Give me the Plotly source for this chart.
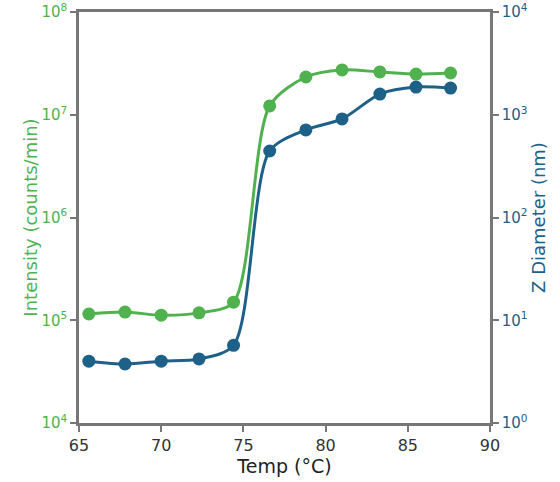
import plotly.graph_objects as go

temp = [65.6, 67.8, 70.0, 72.3, 74.4, 76.6, 78.8, 81.0, 83.3, 85.5, 87.6]
intensity = [1.15e5, 1.2e5, 1.12e5, 1.18e5, 1.5e5, 1.22e7, 2.33e7, 2.73e7, 2.61e7, 2.49e7, 2.55e7]
zdiam = [4.0, 3.75, 4.0, 4.2, 5.7, 444, 711, 910, 1590, 1860, 1820]

left_ticks = [1e4, 1e5, 1e6, 1e7, 1e8]
left_text = ["10<sup>4</sup>", "10<sup>5</sup>", "10<sup>6</sup>", "10<sup>7</sup>", "10<sup>8</sup>"]
right_ticks = [1, 10, 100, 1000, 10000]
right_text = ["10<sup>0</sup>", "10<sup>1</sup>", "10<sup>2</sup>", "10<sup>3</sup>", "10<sup>4</sup>"]
x_ticks = [65, 70, 75, 80, 85, 90]

GREEN = "#4fb24e"
BLUE = "#1d6189"
AXIS = "#777777"
FONT = "DejaVu Sans"

fig = go.Figure()
fig.add_trace(go.Scatter(x=temp, y=intensity, mode="lines+markers",
                         line=dict(color=GREEN, width=3, shape="spline", smoothing=0.8),
                         marker=dict(color=GREEN, size=13), yaxis="y", showlegend=False))
fig.add_trace(go.Scatter(x=temp, y=zdiam, mode="lines+markers",
                         line=dict(color=BLUE, width=3, shape="spline", smoothing=0.8),
                         marker=dict(color=BLUE, size=13), yaxis="y2", showlegend=False))

fig.update_layout(
    width=560, height=482,
    margin=dict(l=79, r=70, t=12, b=59),
    paper_bgcolor="white", plot_bgcolor="white",
    font=dict(family=FONT, size=14, color="#333333"),
    xaxis=dict(range=[65, 90], tickvals=x_ticks, showgrid=False, zeroline=False, automargin=False,
               showline=True, linecolor=AXIS, linewidth=2.5, mirror=True, ticklabeloverflow="allow",
               ticks="outside", ticklen=6, tickcolor=AXIS, tickwidth=1.5,
               tickfont=dict(size=16, color="#333333", family=FONT),
               title=dict(text="Temp (°C)", font=dict(size=19, color="#222222", family=FONT), standoff=6)),
    yaxis=dict(type="log", range=[4, 8], tickvals=left_ticks, ticktext=left_text, automargin=False,
               ticklabeloverflow="allow",
               showgrid=False, zeroline=False, showline=True, linecolor=AXIS, linewidth=2.5,
               ticks="outside", ticklen=6, tickcolor=AXIS, tickwidth=1.5,
               tickfont=dict(size=15, color=GREEN, family=FONT),
               title=dict(text="Intensity (counts/min)", font=dict(size=18, color=GREEN, family=FONT), standoff=0)),
    yaxis2=dict(type="log", range=[0, 4], tickvals=right_ticks, ticktext=right_text, automargin=False,
                overlaying="y", side="right", anchor="x", ticklabeloverflow="allow",
                showgrid=False, zeroline=False, showline=True, linecolor=AXIS, linewidth=2.5,
                ticks="outside", ticklen=6, tickcolor=AXIS, tickwidth=1.5,
                tickfont=dict(size=15, color=BLUE, family=FONT),
                title=dict(text="Z Diameter (nm)", font=dict(size=18, color=BLUE, family=FONT), standoff=6)),
)

fig.write_html("out.html", config={"displayModeBar": False},
               post_script="document.body.style.margin='0';")
